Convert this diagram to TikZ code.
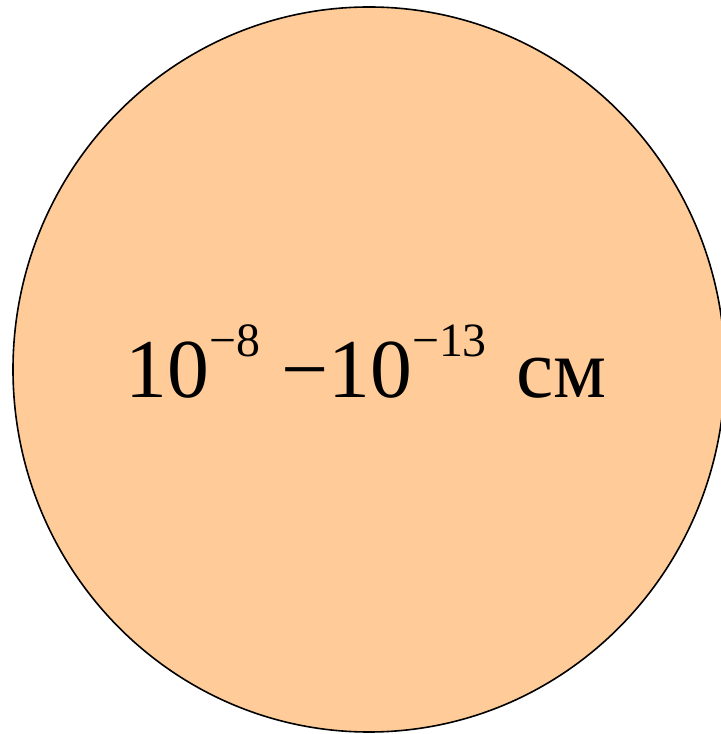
\documentclass[tikz,border=0pt]{standalone}
\usepackage{fontspec}
\setmainfont{Liberation Serif}
\usetikzlibrary{shapes.geometric}
\definecolor{peach}{HTML}{FFCC99}
\newcommand\supr[1]{\raisebox{0.5em}{\fontsize{48}{60}\selectfont −#1}}
\tikzset{ball/.style={ellipse, draw=black, line width=1.6bp, fill=peach, minimum width=712bp, minimum height=725bp, inner sep=0pt}}
\begin{document}
\begin{tikzpicture}[x=1bp,y=1bp]
\useasboundingbox (0,0) rectangle (721,734);
\node[ball] (b) at (369,364.5) {};
\node[anchor=base, font=\fontsize{84}{100}\selectfont, inner sep=0pt] (t) at (366,336) {10\supr{8} −10\supr{13}\hspace{0.1em} см};
\end{tikzpicture}
\end{document}
